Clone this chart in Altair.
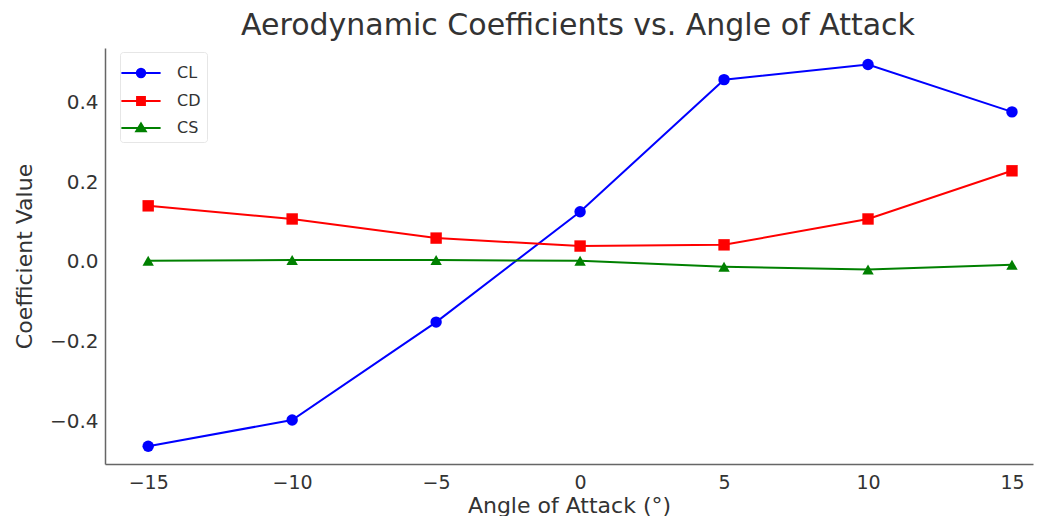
import altair as alt
import pandas as pd

angles = [-15, -10, -5, 0, 5, 10, 15]
cl = [-0.463, -0.397, -0.151, 0.126, 0.458, 0.496, 0.377]
cd = [0.141, 0.108, 0.060, 0.040, 0.043, 0.108, 0.229]
cs = [0.003, 0.005, 0.005, 0.003, -0.012, -0.019, -0.007]
series_names = ["CL", "CD", "CS"]
series_colors = ["#0000ff", "#ff0000", "#008000"]
plot_shapes = ["circle", "square", "triangle-up"]
legend_shapes = [
    "M-1.4,0H1.4M-0.3,0A0.3,0.3,0,1,1,0.3,0A0.3,0.3,0,1,1,-0.3,0Z",
    "M-1.4,0H1.4M-0.28,-0.28H0.28V0.28H-0.28Z",
    "M-1.4,0H1.4M0,-0.32L0.34,0.24H-0.34Z",
]

rows = []
for name, vals in zip(series_names, [cl, cd, cs]):
    for a, v in zip(angles, vals):
        rows.append({"angle": a, "value": v, "series": name})
df = pd.DataFrame(rows)

FONT = "DejaVu Sans"
TXT = "#333333"

x = alt.X(
    "angle:Q",
    scale=alt.Scale(domain=[-16.5, 15.73], nice=False, zero=False),
    axis=alt.Axis(
        values=[-15, -10, -5, 0, 5, 10, 15],
        title="Angle of Attack (°)",
        grid=False,
        ticks=False,
        labelPadding=9,
        titlePadding=3,
        labelFontSize=19,
        titleFontSize=22,
        titleFontWeight="normal",
        labelColor=TXT,
        titleColor=TXT,
        domainColor="#666666",
        domainWidth=1.5,
        labelFont=FONT,
        titleFont=FONT,
    ),
)
y = alt.Y(
    "value:Q",
    scale=alt.Scale(domain=[-0.5075, 0.5375], nice=False, zero=False),
    axis=alt.Axis(
        values=[-0.4, -0.2, 0.0, 0.2, 0.4],
        format=".1f",
        title="Coefficient Value",
        grid=False,
        ticks=False,
        labelPadding=7,
        titlePadding=13,
        labelFontSize=20,
        titleFontSize=22,
        titleFontWeight="normal",
        labelColor=TXT,
        titleColor=TXT,
        domainColor="#666666",
        domainWidth=1.5,
        labelFont=FONT,
        titleFont=FONT,
    ),
)

color_nolegend = alt.Color(
    "series:N",
    scale=alt.Scale(domain=series_names, range=series_colors),
    legend=None,
)

lines = alt.Chart(df).mark_line(strokeWidth=2).encode(
    x=x, y=y, color=color_nolegend, detail="series:N"
)
points = alt.Chart(df).mark_point(filled=True, opacity=1, size=130).encode(
    x=x,
    y=y,
    color=color_nolegend,
    shape=alt.Shape(
        "series:N",
        scale=alt.Scale(domain=series_names, range=plot_shapes),
        legend=None,
    ),
)

leg = alt.Legend(
    title=None,
    orient="none",
    legendX=15,
    legendY=4,
    symbolSize=784,
    symbolStrokeWidth=2,
    labelFontSize=16,
    labelFont=FONT,
    labelColor=TXT,
    labelOffset=21,
    rowPadding=4,
    padding=6,
    strokeColor="#e6e6e6",
    fillColor="#ffffff",
    cornerRadius=3,
)

legend_layer = (
    alt.Chart(df)
    .transform_filter("datum.angle > 1000")
    .mark_point(filled=True, opacity=1, strokeWidth=2, size=784)
    .encode(
        x=x,
        y=y,
        color=alt.Color(
            "series:N",
            scale=alt.Scale(domain=series_names, range=series_colors),
            legend=leg,
        ),
        stroke=alt.Stroke(
            "series:N",
            scale=alt.Scale(domain=series_names, range=series_colors),
            legend=leg,
        ),
        shape=alt.Shape(
            "series:N",
            scale=alt.Scale(domain=series_names, range=legend_shapes),
            legend=leg,
        ),
    )
)

chart = (
    alt.layer(lines, points, legend_layer)
    .resolve_scale(color="independent", shape="independent", stroke="independent")
    .resolve_legend(color="independent", shape="independent", stroke="independent")
    .properties(
        width=928,
        height=416,
        autosize=alt.AutoSizeParams(type="none"),
        padding={"left": 97, "top": 40, "right": 5, "bottom": 52},
        title=alt.TitleParams(
            "Aerodynamic Coefficients vs. Angle of Attack",
            fontSize=30,
            font=FONT,
            fontWeight="normal",
            color=TXT,
            offset=7,
            dx=9,
        ),
    )
    .configure_view(stroke=None)
)

chart.save("out.html", embed_options={"renderer": "svg", "actions": False})
